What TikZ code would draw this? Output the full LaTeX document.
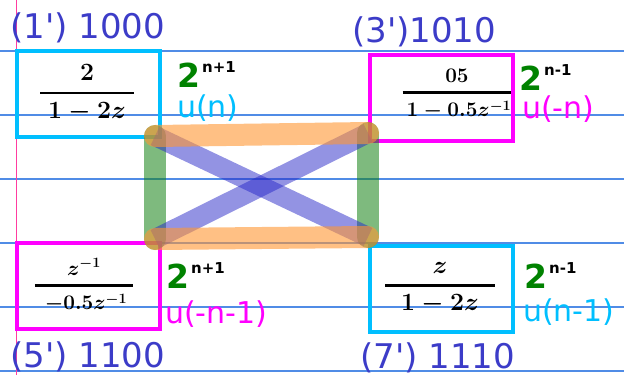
\documentclass[tikz,border=0pt]{standalone}
\usepackage{fontspec}
\setmainfont{DejaVu Sans}[Ligatures=TeXOff]
\usepackage{amsmath}
\usetikzlibrary{positioning}
\definecolor{labblue}{RGB}{60,60,200}
\definecolor{boxcyan}{RGB}{0,191,255}
\definecolor{boxmag}{RGB}{255,0,255}
\definecolor{twogreen}{RGB}{0,130,0}
\definecolor{ruleblue}{RGB}{80,140,230}
\definecolor{marginpink}{RGB}{255,60,160}
\definecolor{bandorange}{RGB}{255,150,50}
\definecolor{bandgreen}{RGB}{20,130,20}
\definecolor{bandblue}{RGB}{40,40,200}
\tikzset{
  cellbox/.style={draw,line width=4pt,minimum width=143pt,minimum height=86pt,inner sep=0pt},
  celllabel/.style={text=labblue,font=\fontsize{34}{36}\selectfont,inner sep=0pt,anchor=base west},
  fracbig/.style={font=\fontsize{24}{28}\selectfont\boldmath,inner sep=0pt},
  fracsmall/.style={font=\fontsize{20}{24}\selectfont\boldmath,inner sep=0pt},
  powtwo/.style={text=twogreen,font=\fontsize{33}{35}\selectfont\bfseries,inner sep=0pt,text depth=0pt,anchor=base west},
  unitstep/.style={font=\fontsize{30}{32}\selectfont,inner sep=0pt,text height=22pt,anchor=base west},
  hband/.style={draw=bandorange,draw opacity=0.6,line width=22pt,line cap=round},
  vband/.style={draw=bandgreen,draw opacity=0.55,line width=22pt,line cap=round},
  xband/.style={draw=bandblue,draw opacity=0.5,line width=20pt},
}
\newcommand{\expo}[1]{\hspace{2pt}\raisebox{15pt}{\color{black}\fontsize{15}{15}\selectfont\bfseries #1}}
\newcommand{\hfrac}[2]{\genfrac{}{}{2.4pt}{0}{#1}{#2}}

\begin{document}
\begin{tikzpicture}[x=1pt,y=-1pt]
\useasboundingbox (0,0) rectangle (624,375);

% ruled paper
\foreach \yy in {51,115,179,243,307,371}
  \draw[ruleblue,line width=1.2pt] (0,\yy) -- (624,\yy);
\draw[marginpink,line width=1.6pt] (16.5,0) -- (16.5,375);

% the four cells
\node[cellbox,draw=boxcyan] (b1) at (88.5,94) {};
\node[cellbox,draw=boxmag] (b3) at (441,97.5) {};
\node[cellbox,draw=boxmag] (b5) at (88,285.5) {};
\node[cellbox,draw=boxcyan] (b7) at (441.5,288.5) {};

\node[fracbig] (f1) at (87,93) {$\hfrac{2}{\;1-2z\;}$};
\node[fracsmall] (f3) at (457,94) {$\hfrac{05}{\,1-0.5z^{-1}}$};
\node[fracsmall] (f5) at (84,285) {$\hfrac{z^{-1}}{\hspace{10pt}-0.5z^{-1}\hspace{6pt}}$};
\node[fracbig] (f7) at (440,288) {$\hfrac{z}{\;\;1-2z\;\;}$};

\node[celllabel] (l1) at (10,38) {(1') 1000};
\node[celllabel] (l3) at (352,42) {(3')1010};
\node[celllabel] (l5) at (10,367) {(5') 1100};
\node[celllabel] (l7) at (360,368) {(7') 1110};

\node[powtwo] (p1) at (177,87) {2\expo{n+1}};
\node[powtwo] (p3) at (519,90) {2\expo{n-1}};
\node[powtwo] (p5) at (166,288) {2\expo{n+1}};
\node[powtwo] (p7) at (524,288) {2\expo{n-1}};

\node[unitstep,text=boxcyan] (u1) at (177,117) {u(n)};
\node[unitstep,text=boxmag] (u3) at (522,118) {u(-n)};
\node[unitstep,text=boxmag] (u5) at (165,323) {u(-n-1)};
\node[unitstep,text=boxcyan] (u7) at (523,321) {u(n-1)};

% corners of the cube face
\coordinate (c1) at (155,136);
\coordinate (c3) at (368,133);
\coordinate (c5) at (155,239);
\coordinate (c7) at (368,237);

\draw[vband] (c1) -- (c5);
\draw[vband] (c3) -- (c7);
\draw[xband] (c1) -- (c7);
\draw[xband] (c5) -- (c3);
\draw[hband] (c1) -- (c3);
\draw[hband] (c5) -- (c7);

\end{tikzpicture}
\end{document}
